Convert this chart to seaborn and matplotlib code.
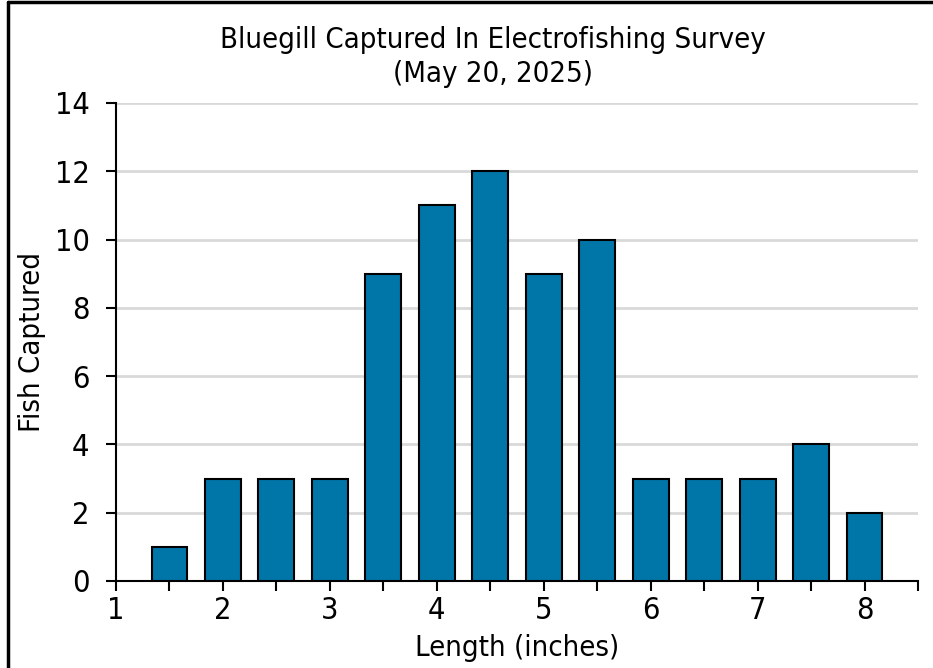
import matplotlib
matplotlib.use("Agg")
import matplotlib.pyplot as plt
from matplotlib.lines import Line2D
from matplotlib.ticker import MultipleLocator
import seaborn as sns
import pandas as pd

lengths = [1.5, 2.0, 2.5, 3.0, 3.5, 4.0, 4.5, 5.0, 5.5, 6.0, 6.5, 7.0, 7.5, 8.0]
counts = [1, 3, 3, 3, 9, 11, 12, 9, 10, 3, 3, 3, 4, 2]
title = "Bluegill Captured In Electrofishing Survey\n(May 20, 2025)"
xlabel = "Length (inches)"
ylabel = "Fish Captured"

sns.set_theme(style="white")
plt.rcParams['font.family'] = ['DejaVu Sans']
plt.rcParams['font.stretch'] = 'condensed'
plt.rcParams['text.color'] = 'black'
plt.rcParams['axes.labelcolor'] = 'black'
plt.rcParams['xtick.color'] = 'black'
plt.rcParams['ytick.color'] = 'black'

df = pd.DataFrame({"length": lengths, "count": counts})

fig = plt.figure(figsize=(9.33, 6.68), dpi=100)
ax = fig.add_axes([116/933, 1-581/668, (918-116)/933, (581-103)/668])

sns.barplot(data=df, x="length", y="count", native_scale=True, width=0.67,
            color="#0076A8", saturation=1, edgecolor="black", linewidth=1.5, ax=ax, zorder=3)

ax.set_xlim(1, 8.5)
ax.set_ylim(0, 14)
ax.xaxis.set_major_locator(MultipleLocator(1))
ax.xaxis.set_minor_locator(MultipleLocator(0.5))
ax.yaxis.set_major_locator(MultipleLocator(2))
ax.grid(axis="y", color="#d9d9d9", linewidth=2, zorder=0)
ax.set_axisbelow(True)
for s in ["top", "right"]:
    ax.spines[s].set_visible(False)
for s in ["left", "bottom"]:
    ax.spines[s].set_color("black")
    ax.spines[s].set_linewidth(1.5)
ax.tick_params(axis="both", which="both", direction="out", color="black", width=1.5)
ax.tick_params(axis="x", which="major", length=7, labelsize=22, pad=4)
ax.tick_params(axis="x", which="minor", length=7)
ax.tick_params(axis="y", which="major", length=7, labelsize=22, pad=12)
ax.tick_params(bottom=True, left=True, which="both")
ax.set_xlabel(xlabel, fontsize=21, labelpad=6)
ax.set_ylabel(ylabel, fontsize=21, labelpad=6)
fig.text(493/933, 1 - 57/668, title, ha="center", va="center",
         fontsize=21, linespacing=1.25)

fig.add_artist(Line2D([8/933, 8/933], [0, 1 - 2/668], color="black", linewidth=2.5))
fig.add_artist(Line2D([8/933, 1], [1 - 2/668, 1 - 2/668], color="black", linewidth=2.5))

fig.savefig("out.png", dpi=100)
